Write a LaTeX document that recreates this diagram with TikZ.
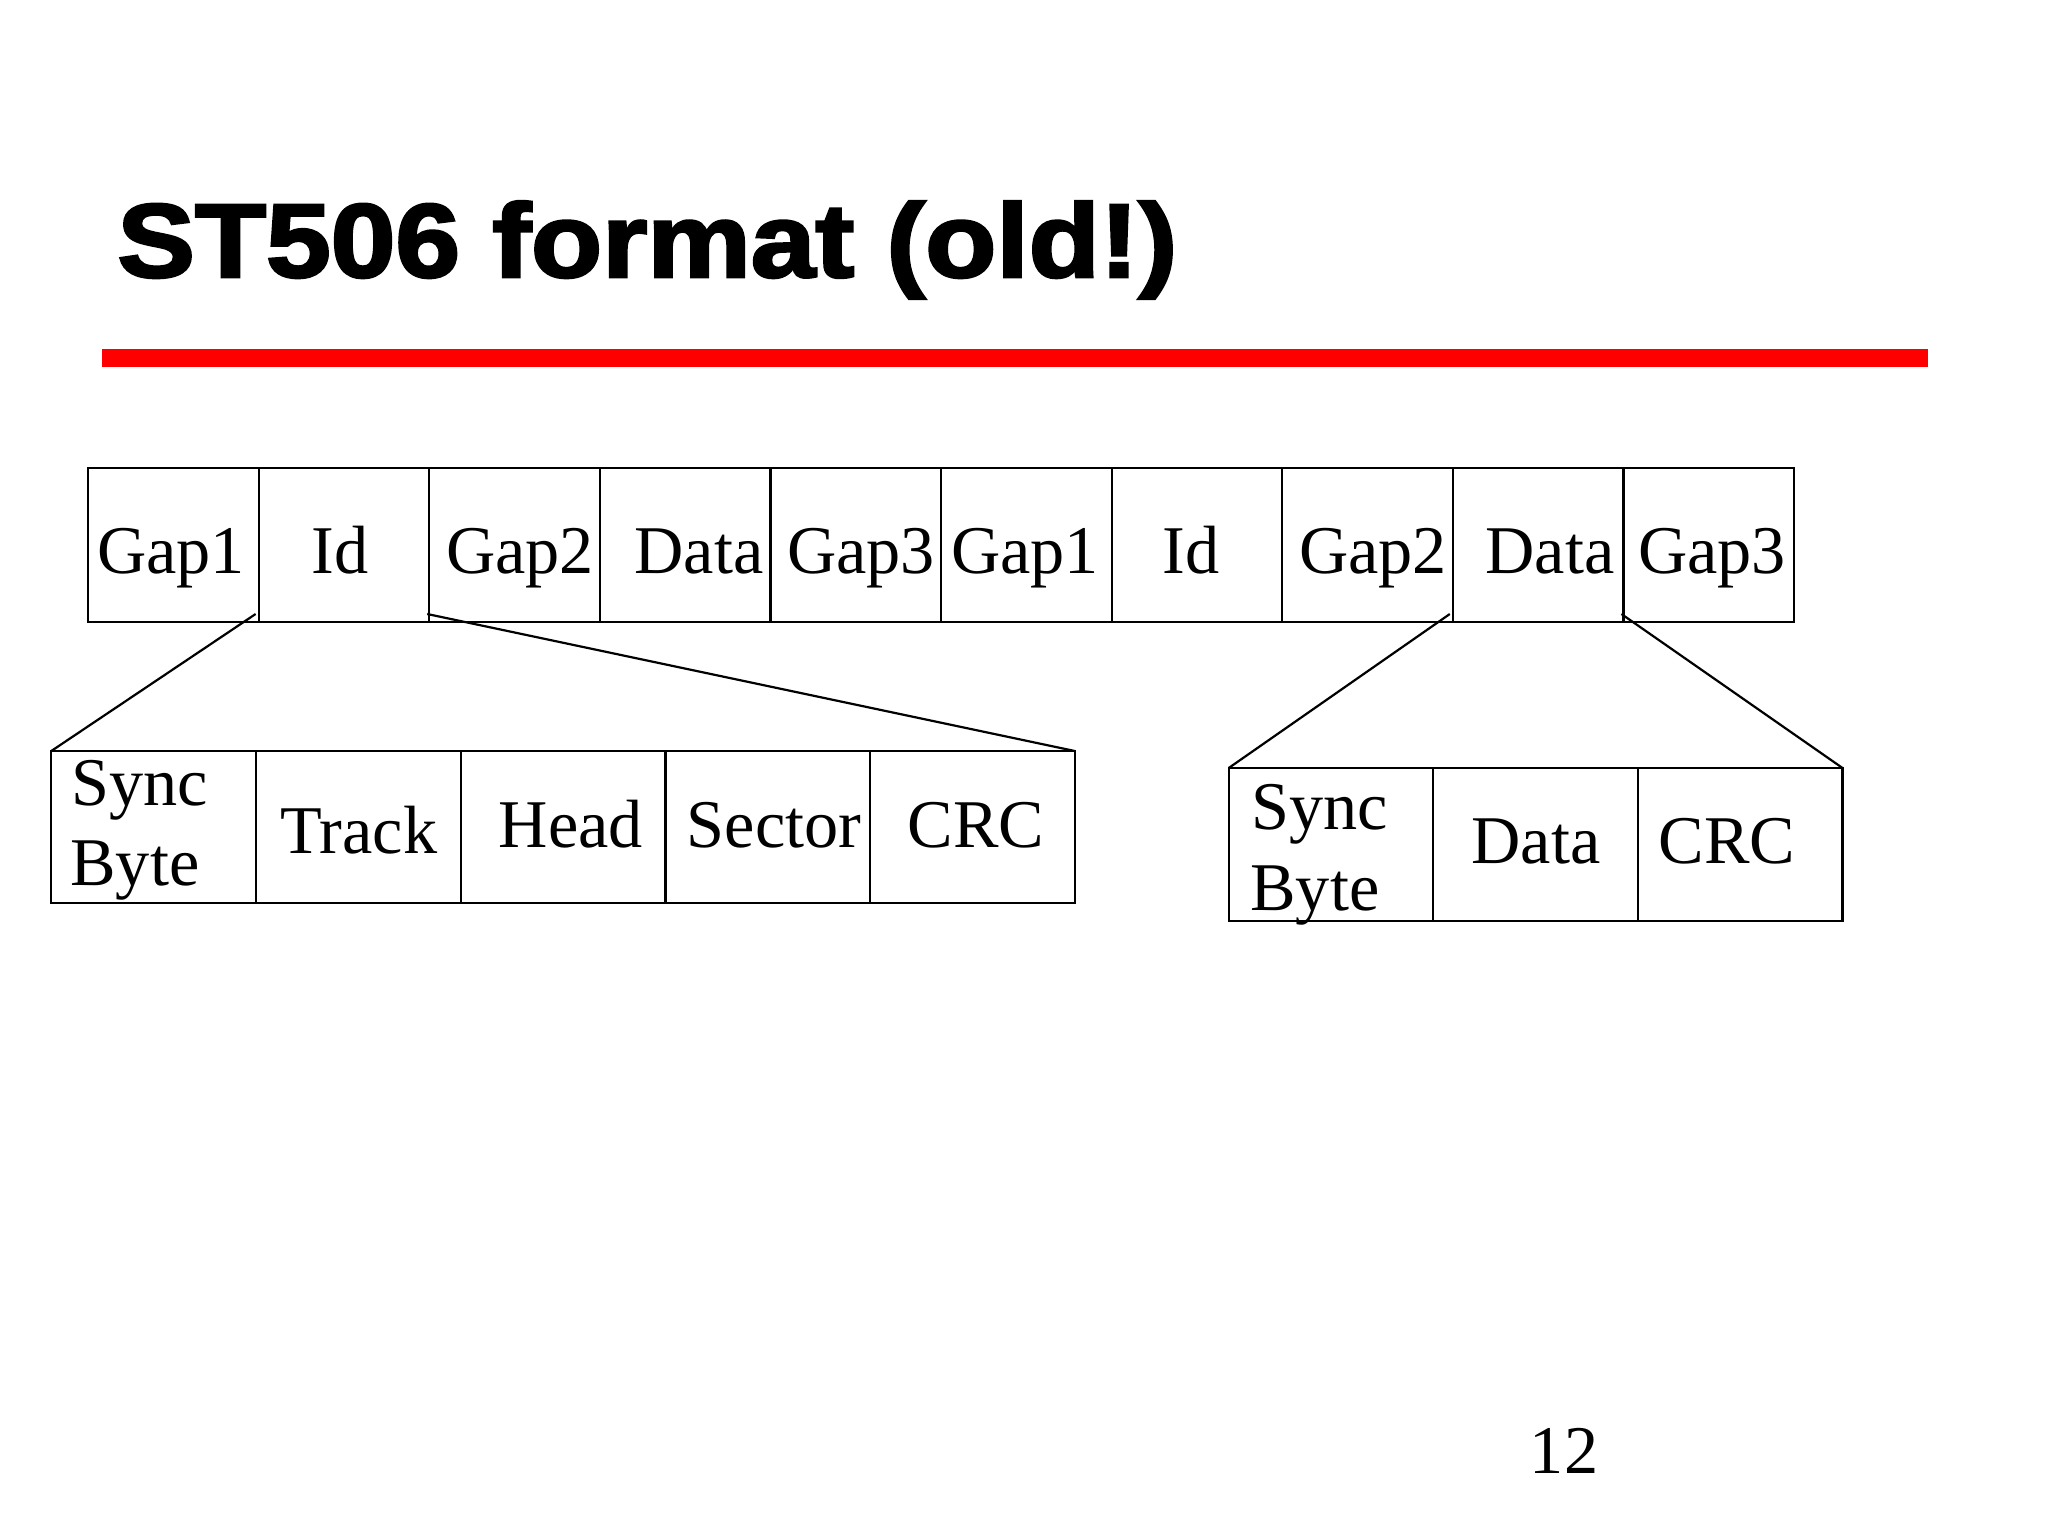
\documentclass[tikz,border=0pt]{standalone}
\usepackage{fontspec}
\setmainfont{Liberation Serif}
\newfontfamily\titlefont{Liberation Sans}[FakeBold=2.5]
\usetikzlibrary{calc}
\begin{document}
\begin{tikzpicture}[x=0.5pt,y=-0.5pt,
  cell/.style={draw, line width=1.1pt, inner sep=0pt, outer sep=0pt, anchor=north west},
  topcell/.style={cell, minimum width=85.3pt, minimum height=77pt},
  leftcell/.style={cell, minimum width=102.35pt, minimum height=76pt},
  rightcell/.style={cell, minimum width=102.3pt, minimum height=76.5pt},
  lbl/.style={font=\fontsize{34.13}{40}\selectfont, anchor=base, inner sep=0pt},
  lblw/.style={lbl, anchor=base west},
  conn/.style={line width=1.1pt}]
\useasboundingbox (0,0) rectangle (2048,1536);
% title and rule
\node[anchor=base west, inner sep=0pt] (title) at (117,277)
  {\titlefont\bfseries\fontsize{52.4}{60}\selectfont\scalebox{1.11}[1]{ST506 format (old!)}};
\fill[red] (102,349) rectangle (1928,367);
% top row
\foreach \i in {0,...,9}
  \node[topcell] (t\i) at ({88+170.6*\i},468) {};
\foreach \t/\x [count=\k] in {Gap1/171, Id/340, Gap2/520, Data/699, Gap3/861,
                               Gap1/1025, Id/1191, Gap2/1373, Data/1550, Gap3/1712}
  \node[lbl] (tl\k) at (\x,573) {\t};
% left sub-row
\foreach \i in {0,...,4}
  \node[leftcell] (a\i) at ({51.3+204.7*\i},751) {};
\node[lblw] (async) at (71,805) {Sync};
\node[lblw] (abyte) at (70,885) {Byte};
\node[lbl] (atrack) at (359,853) {Track};
\node[lbl] (ahead) at (571,847) {Head};
\node[lbl] (asector) at (774,847) {Sector};
\node[lbl] (acrc) at (976,847) {CRC};
% right sub-row
\foreach \i in {0,1,2}
  \node[rightcell] (b\i) at ({1228.7+204.6*\i},768) {};
\node[lblw] (bsync) at (1251,829) {Sync};
\node[lblw] (bbyte) at (1250,910) {Byte};
\node[lbl] (bdata) at (1536,863) {Data};
\node[lbl] (bcrc) at (1727,863) {CRC};
% page number
\node[lbl] (pnum) at (1564,1473) {12};
% connectors
\coordinate (p1) at ($(t0.south east)+(-3,-8)$);
\coordinate (p2) at ($(t1.south east)+(-2,-8)$);
\coordinate (p3) at ($(t7.south east)+(-3,-8)$);
\coordinate (p4) at ($(t8.south east)+(-2,-8)$);
\draw[conn] (a0.north west) -- (p1);
\draw[conn] (p2) -- (a4.north east);
\draw[conn] (b0.north west) -- (p3);
\draw[conn] (p4) -- (b2.north east);
\end{tikzpicture}
\end{document}
